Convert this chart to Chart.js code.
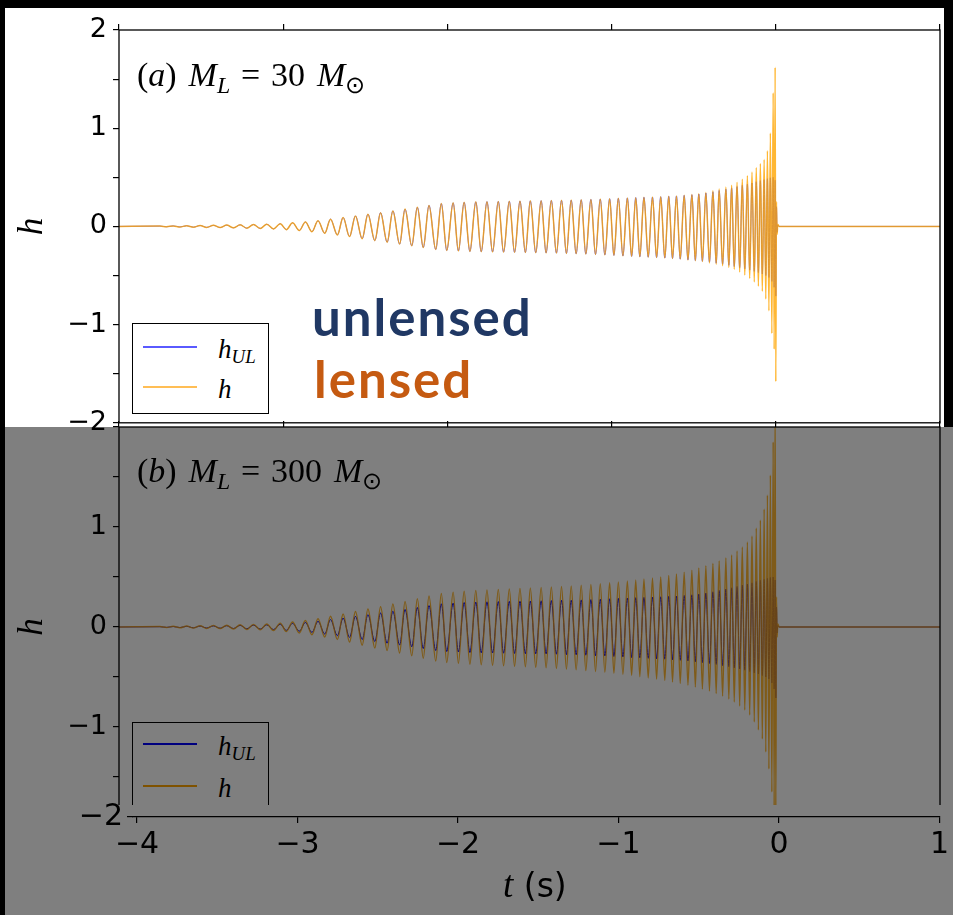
<!DOCTYPE html>
<html>
<head>
<meta charset="utf-8">
<script src="https://cdn.jsdelivr.net/npm/chart.js@4.4.0/dist/chart.umd.min.js"></script>
<style>
  html, body { margin: 0; padding: 0; }
  body { width: 953px; height: 915px; background: #000; position: relative; overflow: hidden; }
  .abs { position: absolute; }
  #bgTop { left: 5px; top: 8px; width: 939px; height: 419px; background: #fff; z-index: 1; }
  #bgBot { left: 5px; top: 427px; width: 948px; height: 488px; background: #fff; z-index: 1; }
  #botWrap { left: 0; top: 400px; width: 953px; height: 515px; z-index: 2; }
  #topWrap { left: 0; top: 0; width: 953px; height: 445px; z-index: 3; }
  #footBg { left: 5px; top: 805px; width: 948px; height: 110px; background: #fff; z-index: 5; }
  #footWrap { left: 5px; top: 785px; width: 948px; height: 130px; z-index: 6; }
  #shade { left: 5px; top: 427px; width: 948px; height: 488px; background: rgba(0,0,0,0.5); z-index: 9; }
  .math { font-family: 'Liberation Serif', serif; color: #000; white-space: nowrap; line-height: 1; z-index: 4; }
  .math sub { font-size: 0.7em; vertical-align: -0.28em; line-height: 0; }
  .math .eq { margin: 0 0.32em; }
  .math .gap { margin-left: 0.35em; }
  .panelLab { font-size: 34px; }
  .legBox { border: 1.3px solid #000; background: #fff; z-index: 4; box-sizing: border-box; }
  .legLine { height: 1.5px; z-index: 4; }
  .legTxt { font-size: 27px; }
  .note { font-family: 'Lato', sans-serif; font-weight: 700; font-size: 51px; letter-spacing: 2px; line-height: 1; z-index: 4; }
  #xTitle { left: 503px; top: 866px; font-size: 33px; line-height: 1; z-index: 7; white-space: nowrap; font-family: 'DejaVu Sans', sans-serif; }
  #xTitle i { font-family: 'Liberation Serif', serif; font-size: 37px; }
</style>
</head>
<body>
<div id="bgTop" class="abs"></div>
<div id="bgBot" class="abs"></div>
<div id="botWrap" class="abs"><canvas id="botChart"></canvas></div>
<div id="topWrap" class="abs"><canvas id="topChart"></canvas></div>

<div class="abs math panelLab" style="left:137px; top:58px;">(<i>a</i>)<span class="gap"></span><i>M</i><sub><i>L</i></sub><span class="eq">=</span>30<span class="gap"></span><i>M</i><sub>&#8857;</sub></div>
<div class="abs math panelLab" style="left:137px; top:454px;">(<i>b</i>)<span class="gap"></span><i>M</i><sub><i>L</i></sub><span class="eq">=</span>300<span class="gap"></span><i>M</i><sub>&#8857;</sub></div>

<div class="abs legBox" style="left:132px; top:323px; width:137px; height:91px;"></div>
<div class="abs legLine" style="left:143px; top:346px; width:54px; background:#5a5aff;"></div>
<div class="abs legLine" style="left:143px; top:386px; width:54px; background:#ffbe55;"></div>
<div class="abs math legTxt" style="left:218px; top:336px;"><i>h</i><sub><i>UL</i></sub></div>
<div class="abs math legTxt" style="left:218px; top:376px;"><i>h</i></div>

<div class="abs legBox" style="left:132px; top:722px; width:137px; height:110px;"></div>
<div class="abs legLine" style="left:143px; top:743px; width:54px; background:#0000ff;"></div>
<div class="abs legLine" style="left:143px; top:785px; width:54px; background:#ffa500;"></div>
<div class="abs math legTxt" style="left:218px; top:733px;"><i>h</i><sub><i>UL</i></sub></div>
<div class="abs math legTxt" style="left:218px; top:775px;"><i>h</i></div>

<div class="abs note" style="left:312px; top:291px; color:#203864;">unlensed</div>
<div class="abs note" style="left:314px; top:353px; color:#c55a11;">lensed</div>

<div id="footBg" class="abs"></div>
<div id="footWrap" class="abs"><canvas id="footChart"></canvas></div>
<div id="xTitle" class="abs"><i>t</i> (s)</div>
<div id="shade" class="abs"></div>

<script>
// extremum times of the waveform (s); flat ends at -4 and 1
const tExt = [-4,
  -3.751, -3.710, -3.670, -3.629, -3.588, -3.547, -3.506, -3.466, -3.425, -3.384,
  -3.344, -3.303, -3.262, -3.222, -3.181, -3.140, -3.100, -3.059, -3.018, -2.981,
  -2.943, -2.902, -2.865, -2.825, -2.788, -2.747, -2.712, -2.670, -2.635, -2.596,
  -2.560, -2.519, -2.484, -2.442, -2.407, -2.367, -2.332, -2.291, -2.258, -2.217,
  -2.183, -2.147, -2.112, -2.071, -2.037, -2.004, -1.965, -1.933, -1.898, -1.863,
  -1.827, -1.794, -1.759, -1.725, -1.690, -1.658, -1.623, -1.591, -1.558, -1.525,
  -1.495, -1.462, -1.429, -1.399, -1.367, -1.336, -1.305, -1.275, -1.246, -1.216,
  -1.185, -1.157, -1.126, -1.098, -1.069, -1.041, -1.012, -0.986, -0.959, -0.931,
  -0.904, -0.878, -0.853, -0.828, -0.803, -0.777, -0.751, -0.726, -0.701, -0.676,
  -0.652, -0.629, -0.605, -0.582, -0.558, -0.535, -0.511, -0.490, -0.469, -0.447,
  -0.426, -0.404, -0.383, -0.363, -0.345, -0.324, -0.304, -0.286, -0.269, -0.253,
  -0.236, -0.220, -0.204, -0.189, -0.173, -0.159, -0.145, -0.131, -0.119, -0.106,
  -0.094, -0.082, -0.071, -0.061, -0.051, -0.042, -0.033, -0.024, -0.016, -0.010,
  -0.004, 0.000, 0.004, 0.008, 0.012,
  0.020, 1];

// unlensed strain h_UL (same source in both panels)
const hUL = [0,
  0.003, -0.004, 0.005, -0.006, 0.007, -0.008, 0.009, -0.010, 0.011, -0.012,
  0.013, -0.015, 0.016, -0.018, 0.019, -0.021, 0.022, -0.026, 0.028, -0.033,
  0.036, -0.042, 0.045, -0.054, 0.057, -0.070, 0.074, -0.087, 0.090, -0.104,
  0.107, -0.125, 0.124, -0.145, 0.140, -0.162, 0.158, -0.180, 0.176, -0.198,
  0.195, -0.215, 0.214, -0.235, 0.232, -0.245, 0.240, -0.250, 0.245, -0.255,
  0.250, -0.258, 0.252, -0.260, 0.254, -0.262, 0.256, -0.264, 0.258, -0.266,
  0.260, -0.268, 0.262, -0.270, 0.264, -0.272, 0.266, -0.275, 0.268, -0.278,
  0.271, -0.282, 0.274, -0.286, 0.278, -0.290, 0.282, -0.295, 0.286, -0.300,
  0.290, -0.305, 0.293, -0.309, 0.296, -0.313, 0.299, -0.317, 0.302, -0.322,
  0.306, -0.327, 0.310, -0.333, 0.315, -0.340, 0.322, -0.347, 0.330, -0.355,
  0.340, -0.364, 0.352, -0.374, 0.365, -0.385, 0.378, -0.396, 0.392, -0.408,
  0.405, -0.420, 0.418, -0.432, 0.430, -0.445, 0.442, -0.458, 0.455, -0.470,
  0.466, -0.485, 0.476, -0.500, 0.486, -0.520, 0.495, -0.560, 0.500, -0.620,
  0.470, -0.710, 0.200, -0.060, 0.015,
  0, 0];

// lensed strain h, panel (a) M_L = 30 Msun
const hLens30 = [0,
  0.003, -0.004, 0.005, -0.006, 0.007, -0.008, 0.009, -0.010, 0.011, -0.012,
  0.013, -0.015, 0.016, -0.018, 0.019, -0.021, 0.022, -0.026, 0.028, -0.033,
  0.036, -0.042, 0.045, -0.054, 0.057, -0.070, 0.074, -0.087, 0.090, -0.104,
  0.107, -0.125, 0.124, -0.145, 0.140, -0.162, 0.158, -0.180, 0.176, -0.198,
  0.195, -0.215, 0.214, -0.235, 0.232, -0.245, 0.240, -0.250, 0.245, -0.255,
  0.250, -0.258, 0.252, -0.260, 0.254, -0.262, 0.256, -0.264, 0.258, -0.266,
  0.260, -0.268, 0.262, -0.270, 0.264, -0.272, 0.266, -0.275, 0.268, -0.278,
  0.271, -0.282, 0.274, -0.286, 0.278, -0.290, 0.282, -0.295, 0.286, -0.300,
  0.290, -0.305, 0.293, -0.309, 0.296, -0.313, 0.299, -0.317, 0.302, -0.322,
  0.306, -0.327, 0.310, -0.333, 0.316, -0.342, 0.324, -0.350, 0.332, -0.358,
  0.345, -0.372, 0.362, -0.385, 0.380, -0.400, 0.400, -0.418, 0.420, -0.438,
  0.450, -0.465, 0.480, -0.495, 0.515, -0.530, 0.555, -0.565, 0.600, -0.610,
  0.640, -0.660, 0.680, -0.740, 0.770, -0.860, 0.950, -1.090, 1.360, -1.250,
  1.620, -1.580, 0.250, -0.080, 0.020,
  0, 0];

// lensed strain h, panel (b) M_L = 300 Msun
const hLens300 = [0,
  0.004, -0.005, 0.007, -0.008, 0.009, -0.011, 0.012, -0.014, 0.015, -0.016,
  0.018, -0.020, 0.022, -0.024, 0.026, -0.028, 0.030, -0.035, 0.038, -0.045,
  0.049, -0.060, 0.065, -0.078, 0.083, -0.101, 0.107, -0.126, 0.131, -0.151,
  0.155, -0.181, 0.180, -0.210, 0.203, -0.235, 0.229, -0.261, 0.255, -0.287,
  0.283, -0.312, 0.310, -0.341, 0.336, -0.355, 0.348, -0.363, 0.357, -0.372,
  0.365, -0.377, 0.370, -0.382, 0.375, -0.387, 0.380, -0.392, 0.385, -0.398,
  0.390, -0.403, 0.395, -0.408, 0.400, -0.414, 0.406, -0.421, 0.411, -0.428,
  0.418, -0.436, 0.424, -0.445, 0.432, -0.453, 0.442, -0.463, 0.450, -0.474,
  0.460, -0.485, 0.470, -0.497, 0.480, -0.510, 0.490, -0.522, 0.500, -0.535,
  0.515, -0.550, 0.530, -0.565, 0.548, -0.582, 0.568, -0.600, 0.590, -0.620,
  0.612, -0.640, 0.635, -0.665, 0.660, -0.690, 0.690, -0.720, 0.720, -0.750,
  0.760, -0.790, 0.800, -0.830, 0.850, -0.880, 0.910, -0.950, 0.990, -1.030,
  1.070, -1.120, 1.180, -1.250, 1.320, -1.420, 1.520, -1.650, 1.850, -1.800,
  2.300, -1.850, 0.300, -0.100, 0.030,
  0, 0];

const xTickVals = [-4, -3, -2, -1, 0, 1];
const yTickVals = [-2, -1.5, -1, -0.5, 0, 0.5, 1, 1.5, 2];

const fmt = v => String(v).replace('-', '\u2212');
const points = vals => tExt.map((t, i) => ({ x: t, y: vals[i] }));

Chart.defaults.font.family = "'DejaVu Sans', sans-serif";
Chart.defaults.color = '#000';

// axes box drawn on all four sides
const frame = {
  id: 'frame',
  afterDatasetsDraw(chart) {
    const { ctx, chartArea: a } = chart;
    ctx.save();
    ctx.strokeStyle = '#000';
    ctx.lineWidth = 1.3;
    ctx.strokeRect(a.left, a.top, a.right - a.left, a.bottom - a.top);
    ctx.restore();
  }
};

function panelConfig(lensed, padBottom, topH, hideTopLabel, ulColor) {
  return {
    type: 'line',
    data: {
      datasets: [
        { label: 'h_UL', data: points(hUL), borderColor: ulColor, borderWidth: 1.0, order: 1 },
        { label: 'h', data: points(lensed), borderColor: 'rgba(255,165,0,0.8)', borderWidth: 1.5, order: 0 }
      ]
    },
    options: {
      animation: false,
      responsive: true,
      maintainAspectRatio: false,
      events: [],
      layout: { padding: { left: 0, right: 13, top: 0, bottom: padBottom } },
      elements: {
        point: { radius: 0 },
        line: { tension: 0.4, cubicInterpolationMode: 'monotone' }
      },
      plugins: { legend: { display: false }, tooltip: { enabled: false } },
      scales: {
        x: { type: 'linear', min: -4, max: 1, display: false },
        xt: {
          type: 'linear', position: 'top', min: -4, max: 1,
          afterBuildTicks: s => { s.ticks = xTickVals.map(v => ({ value: v })); },
          ticks: { display: false },
          grid: { drawOnChartArea: false, tickLength: 6, color: '#000', lineWidth: 1.2 },
          border: { display: false },
          afterFit: s => { s.height = topH; }
        },
        y: {
          type: 'linear', min: -2, max: 2,
          afterBuildTicks: s => { s.ticks = yTickVals.map(v => ({ value: v })); },
          ticks: {
            autoSkip: false, padding: 6, font: { size: 27 }, color: '#000',
            callback: v => (Number.isInteger(v) && !(hideTopLabel && v === 2)) ? fmt(v) : ''
          },
          grid: { drawOnChartArea: false, tickLength: 6, color: '#000', lineWidth: 1.2 },
          border: { display: false },
          title: {
            display: true, text: 'h', color: '#000', padding: { top: 12, bottom: 0 },
            font: { family: "'Liberation Serif', serif", style: 'italic', size: 35 }
          },
          afterFit: s => { s.width = 119; }
        }
      }
    },
    plugins: [frame]
  };
}

new Chart(document.getElementById('topChart'), panelConfig(hLens30, 18, 30, false, 'rgba(60,60,255,0.85)'));
new Chart(document.getElementById('botChart'), panelConfig(hLens300, 88, 27, true, '#0000ff'));

// separate time axis strip along the bottom
new Chart(document.getElementById('footChart'), {
  type: 'line',
  data: { datasets: [] },
  options: {
    animation: false,
    responsive: true,
    maintainAspectRatio: false,
    events: [],
    layout: { padding: { left: 0, right: 12, top: 20, bottom: 0 } },
    plugins: { legend: { display: false }, tooltip: { enabled: false } },
    scales: {
      x: {
        type: 'linear', min: -4.025, max: 1,
        afterBuildTicks: s => { s.ticks = xTickVals.map(v => ({ value: v })); },
        ticks: { autoSkip: false, maxRotation: 0, padding: 4, font: { size: 30 }, color: '#000', callback: v => fmt(v) },
        grid: { drawOnChartArea: false, tickLength: 6, color: '#000', lineWidth: 1.2 },
        border: { display: true, color: '#000', width: 1.3 },
        afterFit: s => { s.height = 98; }
      },
      y: {
        type: 'linear', min: -2, max: -1.9,
        afterBuildTicks: s => { s.ticks = [{ value: -2 }]; },
        ticks: { autoSkip: false, padding: 4, font: { size: 30 }, color: '#000', callback: v => fmt(v) },
        grid: { drawOnChartArea: false, tickLength: 6, color: '#000', lineWidth: 1.2 },
        border: { display: false },
        afterFit: s => { s.width = 128; }
      }
    }
  }
});
</script>
</body>
</html>
